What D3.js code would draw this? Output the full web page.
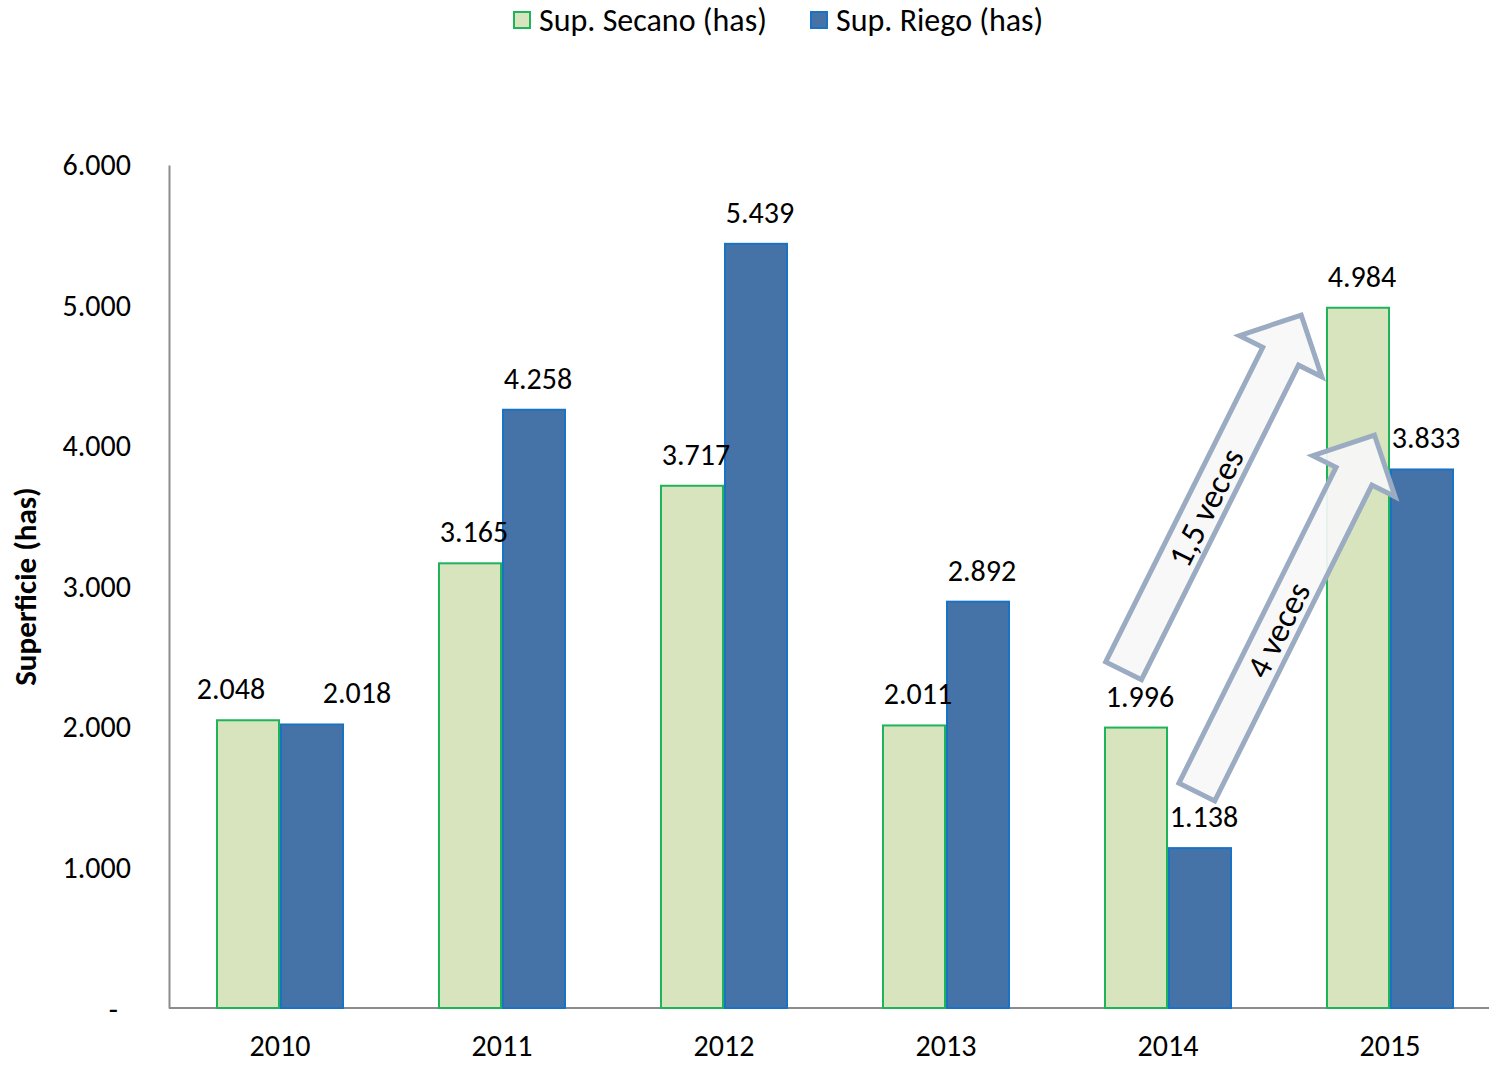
<!DOCTYPE html>
<html>
<head>
<meta charset="utf-8">
<script src="https://cdn.jsdelivr.net/npm/d3@7"></script>
<style>
  html, body { margin: 0; padding: 0; background: #fff; }
  svg { display: block; font-family: Carlito, Lato, "Open Sans", sans-serif; }
</style>
</head>
<body>
<svg id="chart" width="1489" height="1066"></svg>
<script>
// Surface per campaign year, in hectares
const years = ["2010", "2011", "2012", "2013", "2014", "2015"];
const secano = [2048, 3165, 3717, 2011, 1996, 4984];
const riego = [2018, 4258, 5439, 2892, 1138, 3833];
const seriesNames = ["Sup. Secano (has)", "Sup. Riego (has)"];
const yTicks = [0, 1000, 2000, 3000, 4000, 5000, 6000];

// Growth call-outs: [label, tail (year index, has), tip (year index, has)]
const growthLabels = ["1,5 veces", "4 veces"];
const growthTail = [[3.80, 2400], [4.13, 1537]];
const growthTip = [[4.60, 4932], [4.93, 4078]];

const colors = {
  secanoFill: "#d7e4bd", secanoStroke: "#1fb45a",
  riegoFill: "#4573a7", riegoStroke: "#1a72c4",
  axis: "#8c8c8c"
};
const FONT = "Carlito, Lato, 'Open Sans', sans-serif";

const svg = d3.select("#chart");
const margin = { left: 169, top: 165, bottom: 1008 };
const bandW = 222;

const x = d3.scaleBand().domain(years).range([margin.left, margin.left + bandW * years.length]).paddingInner(0.4234).paddingOuter(0.2117);
const xi = d3.scaleLinear().domain([0, 1]).range([margin.left + bandW / 2, margin.left + bandW * 1.5]);
const y = d3.scaleLinear().domain([0, 6000]).range([margin.bottom, margin.top]);

const loc = d3.formatLocale({ decimal: ",", thousands: ".", grouping: [3], currency: ["", ""] });
const fmt = loc.format(",d");
const tickFmt = v => v === 0 ? "-" : fmt(v);

// Y axis
const yAxis = svg.append("g").attr("transform", `translate(${margin.left},0)`)
  .call(d3.axisLeft(y).tickValues(yTicks).tickFormat(tickFmt).tickSize(0).tickPadding(38));
yAxis.select(".domain").attr("stroke", colors.axis).attr("stroke-width", 2);
yAxis.selectAll("text").attr("font-size", 30).attr("fill", "#000").attr("font-family", FONT);
yAxis.selectAll(".tick").filter(d => d === 0).select("text").attr("dx", -13).attr("dy", "0.38em");

// X axis
const xAxis = svg.append("g").attr("transform", `translate(0,${margin.bottom})`)
  .call(d3.axisBottom(x).tickSize(0).tickPadding(27));
xAxis.select(".domain").remove();
xAxis.selectAll("text").attr("font-size", 30).attr("fill", "#000").attr("font-family", FONT);
svg.append("line").attr("x1", margin.left).attr("x2", 1489)
  .attr("y1", margin.bottom).attr("y2", margin.bottom)
  .attr("stroke", colors.axis).attr("stroke-width", 2);

// Y axis title
svg.append("text")
  .attr("transform", `translate(36,${(margin.top + margin.bottom) / 2}) rotate(-90)`)
  .attr("text-anchor", "middle").attr("font-size", 31).attr("font-weight", "bold")
  .text("Superficie (has)");

// Bars
const inner = d3.scaleBand().domain([0, 1]).range([0, x.bandwidth()]);
const rows = years.map((yr, i) => ({ yr, vals: [secano[i], riego[i]] }));
const fills = [colors.secanoFill, colors.riegoFill];
const strokes = [colors.secanoStroke, colors.riegoStroke];
// small horizontal shifts for labels that would collide in the first group
const labelShift = { "2010": [-21, 41] };

const groups = svg.append("g").selectAll("g").data(rows).join("g")
  .attr("transform", d => `translate(${x(d.yr)},0)`);

groups.selectAll("rect").data(d => d.vals.map((v, k) => ({ v, k }))).join("rect")
  .attr("x", d => inner(d.k) + 1)
  .attr("width", inner.bandwidth() - 2)
  .attr("y", d => y(d.v))
  .attr("height", d => y(0) - y(d.v))
  .attr("fill", d => fills[d.k])
  .attr("stroke", d => strokes[d.k])
  .attr("stroke-width", 2);

groups.each(function (row) {
  d3.select(this).selectAll("text.val").data(row.vals.map((v, k) => ({ v, k }))).join("text")
    .attr("class", "val")
    .attr("x", d => inner(d.k) + inner.bandwidth() / 2 + 4 + (labelShift[row.yr] ? labelShift[row.yr][d.k] : 0))
    .attr("y", d => y(d.v) - 21)
    .attr("text-anchor", "middle").attr("font-size", 30).attr("fill", "#000")
    .text(d => fmt(d.v));
});

// Block arrows showing growth from 2014 to 2015
function blockArrow(tail, tip, shaftW, headW, headL) {
  const dx = tip[0] - tail[0], dy = tip[1] - tail[1];
  const len = Math.hypot(dx, dy);
  const ang = Math.atan2(dy, dx) * 180 / Math.PI;
  const s = shaftW / 2, h = headW / 2, b = len - headL;
  const pts = [[0, -s], [b, -s], [b, -h], [len, 0], [b, h], [b, s], [0, s]];
  return { d: "M" + pts.map(p => p.join(",")).join("L") + "Z", ang, len };
}
const ann = svg.append("g");
growthLabels.forEach((lbl, i) => {
  const t0 = [xi(growthTail[i][0]), y(growthTail[i][1])];
  const t1 = [xi(growthTip[i][0]), y(growthTip[i][1])];
  const a = blockArrow(t0, t1, 40, 92, 46);
  const g = ann.append("g").attr("transform", `translate(${t0[0]},${t0[1]}) rotate(${a.ang})`);
  g.append("path").attr("d", a.d)
    .attr("fill", "#f7f7f7").attr("fill-opacity", 0.92)
    .attr("stroke", "#9aabc2").attr("stroke-width", 5).attr("stroke-linejoin", "miter");
  g.append("text").attr("x", i === 0 ? a.len * 0.46 : a.len * 0.455).attr("y", 0).attr("dy", "0.36em")
    .attr("text-anchor", "middle").attr("font-size", 34).attr("fill", "#000").text(lbl);
});

// Legend
const legend = svg.append("g").attr("transform", "translate(0,20)");
const legX = [513, 810];
seriesNames.forEach((name, k) => {
  legend.append("rect").attr("x", legX[k] + 1).attr("y", -8).attr("width", 16).attr("height", 16)
    .attr("fill", fills[k]).attr("stroke", strokes[k]).attr("stroke-width", 2);
  legend.append("text").attr("x", legX[k] + 26).attr("y", 0).attr("dy", "0.35em")
    .attr("font-size", 32).attr("fill", "#000").text(name);
});
</script>
</body>
</html>
